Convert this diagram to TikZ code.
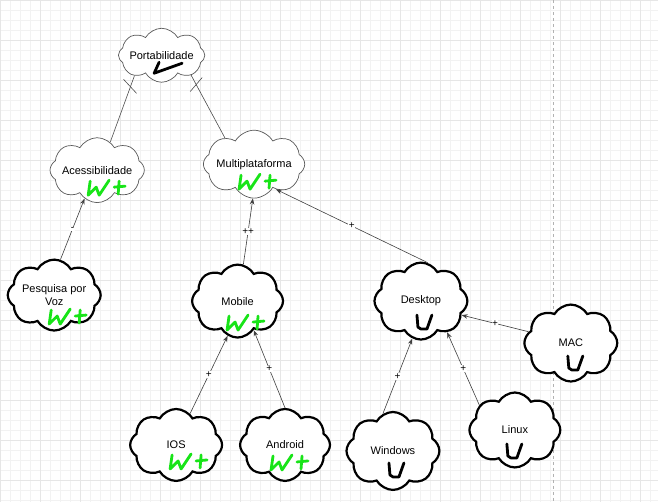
\documentclass[tikz,border=0pt]{standalone}
\usepackage{fontspec}
\setmainfont{Liberation Sans}
\usepackage{xcolor}
\usetikzlibrary{shapes.symbols, arrows.meta, positioning}

\definecolor{marker}{RGB}{24,228,24}
\definecolor{gridline}{RGB}{242,242,242}
\definecolor{gridmajor}{RGB}{230,230,230}

% handwritten marks, placed relative to a node
\newcommand{\wplus}[2]{\begin{scope}[shift={#1}, shift={#2}]
    \draw[greenhand] (-16,-7) -- (-18,7) -- (-10,-1) -- (-7,7) -- (3,-8);
    \draw[greenhand] (8,-1) -- (19,-2) (13,-7) -- (12,6);
\end{scope}}
\newcommand{\uhand}[2]{\begin{scope}[shift={#1}, shift={#2}]
    \draw[blackhand] (-7,-7) -- (-6,5) -- (-3,7) -- (3,7) -- (8,-7);
\end{scope}}

\begin{document}
\begin{tikzpicture}[x=1pt, y=-1pt]
    \tikzstyle{softcloud} = [cloud, cloud puffs=8, cloud puff arc=120, cloud ignores aspect, draw=black!65, line width=0.7pt, fill=white, font=\fontsize{11}{13}\selectfont, align=center, inner sep=0pt]
    \tikzstyle{boldcloud} = [softcloud, draw=black, line width=2.2pt]
    \tikzstyle{arrow} = [-{Stealth[length=6pt,width=4.5pt]}, draw=black!75, line width=0.6pt]
    \tikzstyle{link} = [draw=black!70, line width=0.6pt]
    \tikzstyle{weight} = [fill=white, inner sep=0.5pt, font=\fontsize{10}{10}\selectfont]
    \tikzstyle{greenhand} = [draw=marker, line width=2.8pt, line cap=round, line join=round]
    \tikzstyle{blackhand} = [draw=black, line width=2.8pt, line cap=round, line join=round]

    % canvas with grid
    \fill[white] (0,0) rectangle (658,502);
    \draw[gridline, step=10pt, line width=0.5pt] (0,0) grid (658,502);
    \draw[gridmajor, step=40pt, line width=0.5pt] (0,0) grid (658,502);
    \draw[black!30, dashed, line width=0.6pt] (553,0) -- (553,502);

    \node (port) [softcloud, minimum width=77pt, minimum height=54pt] at (161.5,55) {Portabilidade};
    \node (acess) [softcloud, minimum width=83pt, minimum height=65pt] at (97,170) {Acessibilidade};
    \node (multi) [softcloud, minimum width=93pt, minimum height=68pt] at (254,164) {Multiplataforma};

    \node (voz) [boldcloud, minimum width=93pt, minimum height=71pt] at (54,295) {Pesquisa por\\Voz};
    \node (mobile) [boldcloud, minimum width=91pt, minimum height=73pt] at (237.5,301) {Mobile};
    \node (desktop) [boldcloud, minimum width=93pt, minimum height=77pt] at (421,301) {Desktop};
    \node (mac) [boldcloud, minimum width=93pt, minimum height=77pt] at (571,343) {MAC};

    \node (ios) [boldcloud, minimum width=92pt, minimum height=72pt] at (176,445) {IOS};
    \node (android) [boldcloud, minimum width=90pt, minimum height=72pt] at (285,445) {Android};
    \node (windows) [boldcloud, minimum width=93pt, minimum height=78pt] at (393,451) {Windows};
    \node (linux) [boldcloud, minimum width=91pt, minimum height=75pt] at (515,430) {Linux};

    \draw [link] (port.217) -- coordinate[pos=0.16] (tickA) (acess.65);
    \draw [link] (port.-34) -- coordinate[pos=0.15] (tickB) (multi.138);
    \draw [link] ([shift={(-7,-7)}]tickA) -- ([shift={(6,7)}]tickA);
    \draw [link] ([shift={(-6,7)}]tickB) -- ([shift={(6,-7)}]tickB);

    \draw [arrow] (voz.80) -- node[weight] {-} (acess.-114);
    \draw [arrow] (mobile.81) -- node[weight] {++} (multi.-92);
    \draw [arrow] (desktop.80) -- node[weight] {+} (multi.-49);
    \draw [arrow] (ios.66) -- node[weight] {+} (mobile.-106);
    \draw [arrow] (android.90) -- node[weight] {+} (mobile.-61);
    \draw [arrow] (windows.105) -- node[weight] {+} (desktop.-103);
    \draw [arrow] (linux.145) -- node[weight] {+} (desktop.-50);
    \draw [arrow] (mac.165) -- node[weight] {+} (desktop.-19);

    \draw [blackhand] ([shift={(-2.5,7)}]port.center) -- ([shift={(-7.5,18)}]port.center) -- ([shift={(20.5,8)}]port.center);
    \wplus{(acess.center)}{(9,18)}
    \wplus{(multi.center)}{(3,18)}
    \wplus{(voz.center)}{(13,22)}
    \wplus{(mobile.center)}{(7.5,22)}
    \wplus{(ios.center)}{(12,17)}
    \wplus{(android.center)}{(4,18)}
    \uhand{(desktop.center)}{(3,21)}
    \uhand{(mac.center)}{(4,20)}
    \uhand{(windows.center)}{(3,19)}
    \uhand{(linux.center)}{(-1,21)}
\end{tikzpicture}
\end{document}
